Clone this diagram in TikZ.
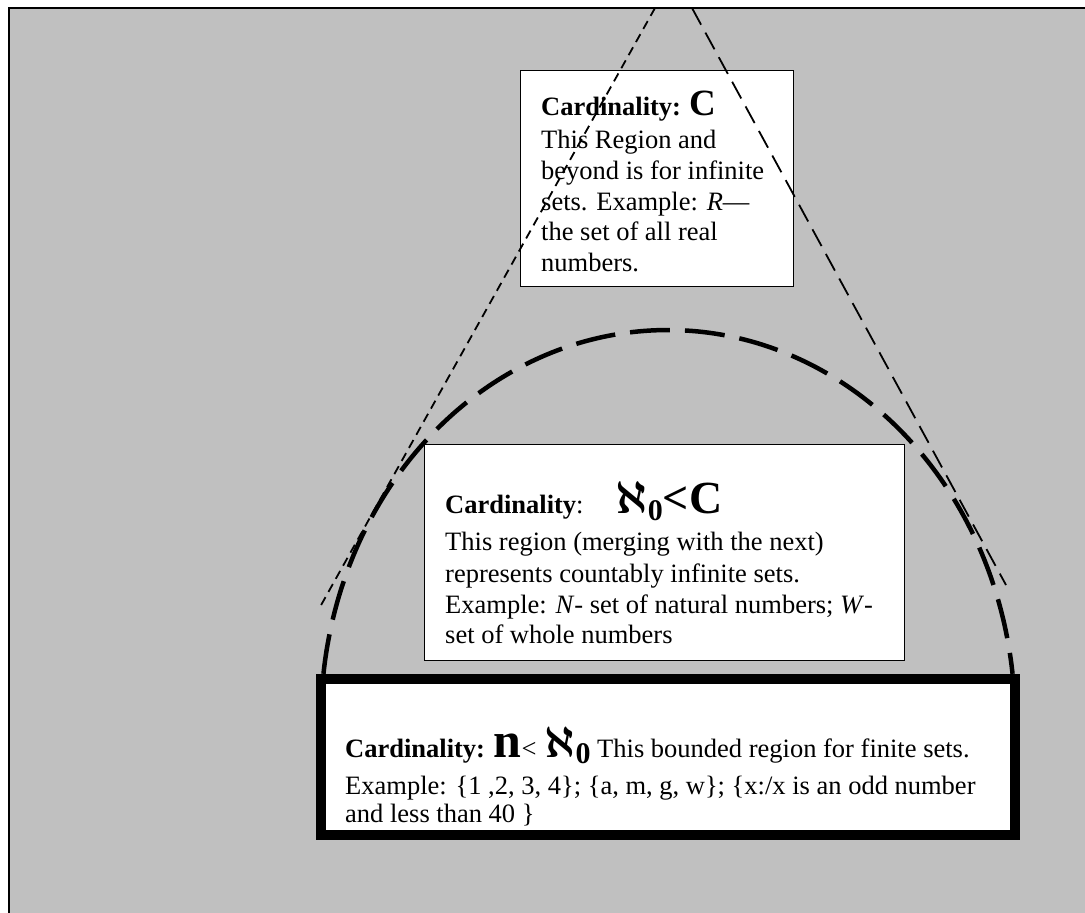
\RequirePackage{fix-cm}
\documentclass[tikz,border=0pt]{standalone}
\usepackage{fontspec}
\setmainfont{Liberation Serif}
\definecolor{bggray}{HTML}{C0C0C0}
\newcommand{\bodyfs}{\fontsize{26.5}{31}\selectfont}
\begin{document}
\begin{tikzpicture}[x=1pt,y=-1pt,
  txt/.style={anchor=base west, inner sep=0pt, font=\bodyfs},
  thinbox/.style={draw=black, line width=1pt, fill=white, inner sep=0pt},
  thickbox/.style={draw=black, line width=10.5pt, fill=white, inner sep=0pt},
  arcline/.style={line width=4.5pt, dash pattern=on 40pt off 15pt},
  leftcone/.style={line width=1.8pt, dash pattern=on 9pt off 6pt},
  rightcone/.style={line width=1.8pt, dash pattern=on 19pt off 9pt}]
\useasboundingbox (0,0) rectangle (1085,913);
\fill[white] (0,0) rectangle (1085,913);
\fill[bggray] (9,8) rectangle (1085,913);
\draw[line width=2.5pt] (9,913) -- (9,8) -- (1085,8);
% big dashed arc
\draw[arcline] plot[domain=186.8:353.2, samples=150, smooth] ({668+347*cos(\x)},{720+390*sin(\x)});
% boxes
\node[thinbox, minimum width=273pt, minimum height=216pt] (topbox) at (656.5,178) {};
\node[thinbox, minimum width=480pt, minimum height=216pt] (midbox) at (664,552) {};
% top box text
\node[txt] (c1) at (541,115) {\textbf{Cardinality: {\fontsize{37}{37}\selectfont C}}};
\node[txt] (c2) at (541,148) {This Region and};
\node[txt] (c3) at (541,179) {beyond is for infinite};
\node[txt] (c4) at (541,210) {sets. Example: \textit{R}---};
\node[txt] (c5) at (541,240) {the set of all real};
\node[txt] (c6) at (541,271) {numbers.};
% middle box text
\node[txt] (m1) at (445,513) {\textbf{Cardinality}:\hspace{32pt}{\fontsize{46}{46}\selectfont\boldmath$\aleph$\raisebox{-7pt}{\fontsize{30}{30}\selectfont\bfseries 0}\bfseries<C}};
\node[txt] (m2) at (445,550) {This region (merging with the next)};
\node[txt] (m3) at (445,582) {represents countably infinite sets.};
\node[txt] (m4) at (445,613) {Example: \textit{N}- set of natural numbers; \textit{W}-};
\node[txt] (m5) at (445,643) {set of whole numbers};
% cone lines
\coordinate (apexL) at (655,8);
\coordinate (footL) at (320,607);
\coordinate (apexR) at (692,8);
\coordinate (footR) at (1006,585);
\draw[leftcone] (apexL) -- (footL);
\draw[rightcone] (apexR) -- (footR);
% bottom box
\node[thickbox, minimum width=694pt, minimum height=156pt] (botbox) at (668,757) {};
\node[txt] (b1) at (345,757) {\textbf{Cardinality: }{\fontsize{50}{50}\selectfont\bfseries n}<\hspace{8pt}{\fontsize{44}{44}\selectfont\boldmath$\aleph$\raisebox{-6pt}{\fontsize{30}{30}\selectfont\bfseries 0}} This bounded region for finite sets.};
\node[txt] (b2) at (345,794) {Example: \{1 ,2, 3, 4\}; \{a, m, g, w\}; \{x:/x is an odd number};
\node[txt] (b3) at (345,822) {and less than 40 \}};
\end{tikzpicture}
\end{document}
